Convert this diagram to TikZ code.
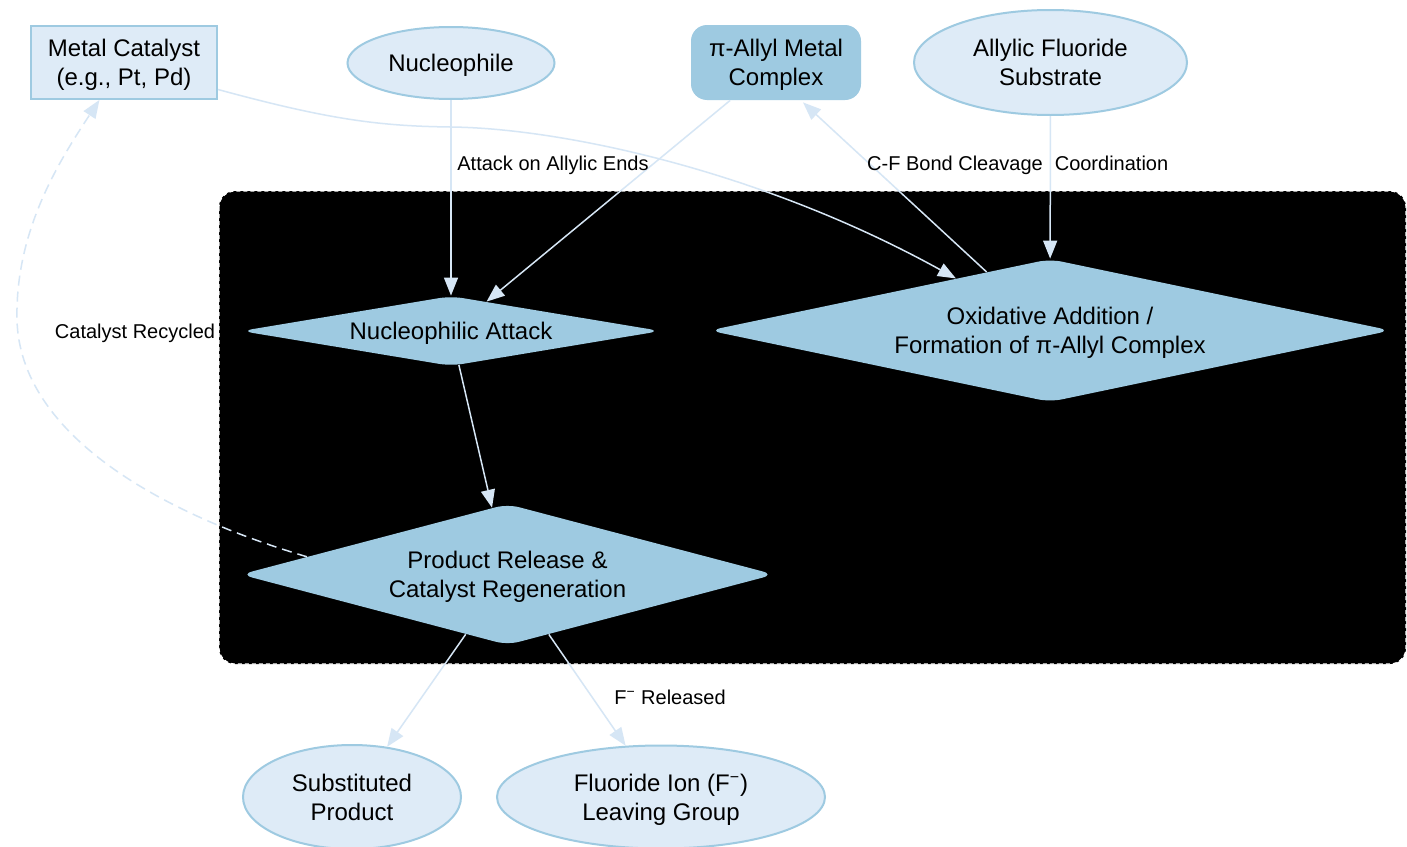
\documentclass[tikz,border=0pt]{standalone}
\usepackage{fontspec}
\setmainfont{Liberation Sans}
\usetikzlibrary{shapes.geometric,arrows.meta,calc}
\definecolor{lightfill}{HTML}{DEEBF7}
\definecolor{midblue}{HTML}{9ECAE1}
\definecolor{edgecol}{HTML}{D6E6F5}
\tikzset{
 base/.style={align=center, font=\fontsize{12}{14.5}\selectfont, inner sep=0pt, text=black, text depth=0pt},
 ellnode/.style={base, ellipse, fill=lightfill, draw=midblue, line width=1pt},
 boxnode/.style={base, rectangle, fill=lightfill, draw=midblue, line width=1pt},
 roundnode/.style={base, rectangle, rounded corners=8pt, fill=midblue},
 diam/.style={base, diamond, rounded corners=6pt, fill=midblue},
 conn/.style={draw=edgecol, line width=0.75pt, -{Triangle[length=9pt,width=7pt]}},
 elabel/.style={font=\fontsize{10}{12}\selectfont, inner sep=0pt, text=black, text depth=0pt},
 clusterbox/.style={fill=black, draw=white, dash pattern=on 2pt off 1.5pt, line width=0.6pt, rounded corners=8pt}
}
\begin{document}
\begin{tikzpicture}[x=0.5pt,y=-0.5pt]
\useasboundingbox (0,0) rectangle (1407,846);
\fill[white] (0,0) rectangle (1407,846);
% cluster
\draw[clusterbox] (219,191) rectangle (1406,664);
% nodes
\node[boxnode, minimum width=93pt, minimum height=36.5pt] (mc) at (124,62.5) {Metal Catalyst\\(e.g., Pt, Pd)};
\node[ellnode, minimum width=103.5pt, minimum height=36pt] (nu) at (451,63) {Nucleophile};
\node[roundnode, minimum width=85pt, minimum height=37.5pt] (pi) at (776,62.5) {π-Allyl Metal\\Complex};
\node[ellnode, minimum width=136.5pt, minimum height=52.5pt] (af) at (1050.5,62.5) {Allylic Fluoride\\Substrate};
\node[diam, aspect=5.77, minimum width=210pt, minimum height=35pt] (na) at (451,331) {Nucleophilic Attack};
\node[diam, aspect=4.66, minimum width=341pt, minimum height=71.5pt] (ox) at (1050,330.5) {Oxidative Addition /\\Formation of π-Allyl Complex};
\node[diam, aspect=3.68, minimum width=267pt, minimum height=70.5pt] (pr) at (507.5,574.5) {Product Release \&\\Catalyst Regeneration};
\node[ellnode, minimum width=109pt, minimum height=52pt] (sp) at (352,797) {Substituted\\Product};
\node[ellnode, minimum width=164pt, minimum height=51.5pt] (fi) at (661,797) {Fluoride Ion (F\textsuperscript{−})\\Leaving Group};
% connectors
\draw[conn] (nu) -- (na);
\draw[conn] (pi) -- (na);
\draw[conn] ([yshift=-13.5pt]mc.east) .. controls (330,120) and (380,126) .. (450,127) .. controls (560,128) and (760,170) .. (ox);
\draw[conn] (ox) -- ([xshift=13.5pt,yshift=-1pt]pi.south);
\draw[conn] (af) -- (ox);
\draw[conn] (na) -- (pr);
\draw[conn, dash pattern=on 5pt off 3pt] ($(pr.west)!0.25!(pr.north)$) .. controls (150,510) and (20,430) .. (17,320) .. controls (15,230) and (60,160) .. (mc);
\draw[conn] (pr) -- (sp);
\draw[conn] (pr) -- (fi);
% labels
\node[elabel, anchor=west] (l1) at (457,163) {Attack on Allylic Ends};
\node[elabel] (l2) at (955,163) {C-F Bond Cleavage};
\node[elabel] (l3) at (1111.5,163) {Coordination};
\node[elabel] (l4) at (135,331) {Catalyst Recycled};
\node[elabel] (l5) at (670,697) {F\textsuperscript{−} Released};
\end{tikzpicture}
\end{document}
